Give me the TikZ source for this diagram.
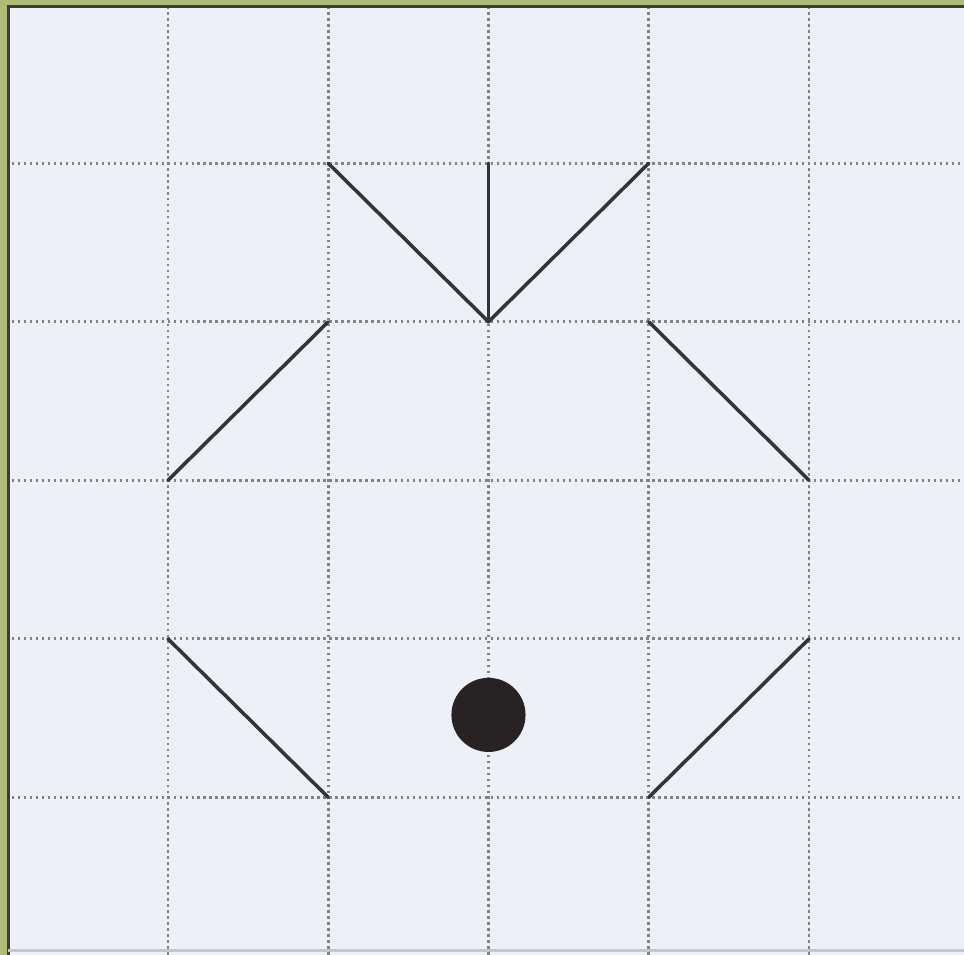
\documentclass[tikz,border=0pt]{standalone}
\usepackage{xcolor}
\usepackage{tikz}
\usetikzlibrary{calc}

\definecolor{paper}{RGB}{237,240,247}
\definecolor{frameolive}{RGB}{176,188,118}
\definecolor{framedark}{RGB}{58,64,48}
\definecolor{gridgray}{RGB}{128,130,142}
\definecolor{inkline}{RGB}{52,52,56}
\definecolor{inkdot}{RGB}{40,34,36}

\begin{document}
\begin{tikzpicture}[
  x=1.6cm, y=1.5825cm,
  gridline/.style={gridgray, line width=0.8pt, dash pattern=on 0.7pt off 1pt},
  seg/.style={inkline, line width=1pt, line cap=round},
  spot/.style={circle, fill=inkdot, minimum size=0.74cm, inner sep=0pt},
]

% ---------- paper ----------
\coordinate (sw) at (-0.048,0.008);
\coordinate (ne) at (5.967,6.03);
\useasboundingbox (sw) rectangle (ne);
\fill[paper] (sw) rectangle (ne);

% ---------- grid points and dotted grid ----------
\foreach \i in {1,...,5}
  \foreach \j in {1,...,5}
    \coordinate (g\i\j) at (\i,\j);
\foreach \k in {1,...,5} {
  \draw[gridline] (g\k1 |- sw) -- (g\k1 |- ne);
  \draw[gridline] (g1\k -| sw) -- (g1\k -| ne);
}

% ---------- frame ----------
\fill[frameolive] (-0.048,5.998) rectangle (ne);
\fill[frameolive] (sw) rectangle (-0.004,6.03);
\draw[framedark, line width=0.9pt] (0.005,0.008) -- (0.005,5.989) -- (5.967,5.989);
\draw[black!22, line width=0.8pt] (0.005,0.033) -- (5.967,0.033);

% ---------- figure ----------
\foreach \a/\b in {g25/g34,g35/g34,g45/g34,g24/g13,g44/g53,g12/g21,g52/g41}
  \draw[seg] (\a) -- (\b);
\node[spot] (dot) at (3,1.52) {};

\end{tikzpicture}
\end{document}
